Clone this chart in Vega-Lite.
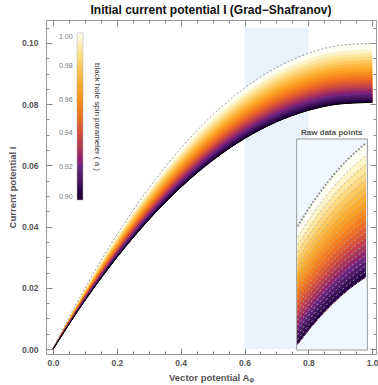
{
  "$schema": "https://vega.github.io/schema/vega-lite/v6.json",
  "width": 330,
  "height": 334,
  "autosize": {"type": "none"},
  "padding": {"left": 46, "top": 20, "right": 2, "bottom": 31},
  "config": {
    "font": "Liberation Sans",
    "view": {"stroke": "#9a9a9a", "strokeWidth": 1},
    "axis": {"grid": false, "domain": false, "tickColor": "#8a8a8a", "labelColor": "#555555", "titleColor": "#555555", "labelFontWeight": "bold", "titleFontWeight": "bold", "labelFontSize": 8.5, "titleFontSize": 9.5, "labelFont": "Liberation Sans", "titleFont": "Liberation Sans"}
  },
  "title": {"text": "Initial current potential I (Grad−Shafranov)", "fontSize": 12, "fontWeight": "bold", "color": "#111111", "offset": 3, "anchor": "middle", "font": "Liberation Sans"},
  "datasets": {
    "curves": [
      {"a": 1.0, "A": [0,0.1,0.2,0.3,0.4,0.5,0.6,0.65,0.7,0.75,0.8,0.9,1.0], "I": [0,0.01959,0.03697,0.05217,0.06522,0.07613,0.08492,0.08854,0.09164,0.09422,0.09629,0.0989,0.0995]},
      {"a": 0.995, "A": [0,0.1,0.2,0.3,0.4,0.5,0.6,0.65,0.7,0.75,0.8,0.9,1.0], "I": [0,0.01925,0.03633,0.05127,0.06409,0.07481,0.08346,0.08701,0.09005,0.09259,0.09462,0.09719,0.09778]},
      {"a": 0.99, "A": [0,0.1,0.2,0.3,0.4,0.5,0.6,0.65,0.7,0.75,0.8,0.9,1.0], "I": [0,0.019,0.03586,0.0506,0.06325,0.07383,0.08237,0.08588,0.08888,0.09138,0.09339,0.09592,0.09651]},
      {"a": 0.985, "A": [0,0.1,0.2,0.3,0.4,0.5,0.6,0.65,0.7,0.75,0.8,0.9,1.0], "I": [0,0.01877,0.03543,0.05,0.0625,0.07296,0.08139,0.08486,0.08783,0.0903,0.09228,0.09479,0.09536]},
      {"a": 0.98, "A": [0,0.1,0.2,0.3,0.4,0.5,0.6,0.65,0.7,0.75,0.8,0.9,1.0], "I": [0,0.01856,0.03504,0.04944,0.0618,0.07214,0.08047,0.0839,0.08684,0.08928,0.09124,0.09372,0.09429]},
      {"a": 0.975, "A": [0,0.1,0.2,0.3,0.4,0.5,0.6,0.65,0.7,0.75,0.8,0.9,1.0], "I": [0,0.01836,0.03465,0.0489,0.06113,0.07135,0.0796,0.08299,0.08589,0.08831,0.09025,0.0927,0.09326]},
      {"a": 0.97, "A": [0,0.1,0.2,0.3,0.4,0.5,0.6,0.65,0.7,0.75,0.8,0.9,1.0], "I": [0,0.01817,0.03429,0.04839,0.06049,0.07061,0.07877,0.08212,0.08499,0.08739,0.08931,0.09173,0.09229]},
      {"a": 0.965, "A": [0,0.1,0.2,0.3,0.4,0.5,0.6,0.65,0.7,0.75,0.8,0.9,1.0], "I": [0,0.01798,0.03394,0.0479,0.05987,0.06988,0.07796,0.08128,0.08412,0.08649,0.08839,0.09079,0.09134]},
      {"a": 0.96, "A": [0,0.1,0.2,0.3,0.4,0.5,0.6,0.65,0.7,0.75,0.8,0.9,1.0], "I": [0,0.0178,0.0336,0.04741,0.05926,0.06918,0.07717,0.08046,0.08327,0.08562,0.0875,0.08987,0.09042]},
      {"a": 0.955, "A": [0,0.1,0.2,0.3,0.4,0.5,0.6,0.65,0.7,0.75,0.8,0.9,1.0], "I": [0,0.01762,0.03326,0.04694,0.05868,0.06849,0.07641,0.07966,0.08245,0.08477,0.08663,0.08898,0.08952]},
      {"a": 0.95, "A": [0,0.1,0.2,0.3,0.4,0.5,0.6,0.65,0.7,0.75,0.8,0.9,1.0], "I": [0,0.01745,0.03294,0.04648,0.0581,0.06782,0.07566,0.07888,0.08164,0.08394,0.08578,0.08811,0.08865]},
      {"a": 0.945, "A": [0,0.1,0.2,0.3,0.4,0.5,0.6,0.65,0.7,0.75,0.8,0.9,1.0], "I": [0,0.01728,0.03262,0.04603,0.05753,0.06716,0.07492,0.07811,0.08084,0.08312,0.08495,0.08725,0.08778]},
      {"a": 0.94, "A": [0,0.1,0.2,0.3,0.4,0.5,0.6,0.65,0.7,0.75,0.8,0.9,1.0], "I": [0,0.01712,0.0323,0.04558,0.05698,0.06651,0.0742,0.07736,0.08006,0.08232,0.08413,0.08641,0.08693]},
      {"a": 0.935, "A": [0,0.1,0.2,0.3,0.4,0.5,0.6,0.65,0.7,0.75,0.8,0.9,1.0], "I": [0,0.01695,0.032,0.04515,0.05644,0.06588,0.07349,0.07662,0.0793,0.08154,0.08333,0.08559,0.08611]},
      {"a": 0.93, "A": [0,0.1,0.2,0.3,0.4,0.5,0.6,0.65,0.7,0.75,0.8,0.9,1.0], "I": [0,0.01679,0.03169,0.04472,0.0559,0.06525,0.0728,0.0759,0.07855,0.08077,0.08254,0.08478,0.08529]},
      {"a": 0.925, "A": [0,0.1,0.2,0.3,0.4,0.5,0.6,0.65,0.7,0.75,0.8,0.9,1.0], "I": [0,0.01663,0.03139,0.0443,0.05537,0.06463,0.0721,0.07517,0.0778,0.07999,0.08175,0.08397,0.08448]},
      {"a": 0.92, "A": [0,0.1,0.2,0.3,0.4,0.5,0.6,0.65,0.7,0.75,0.8,0.9,1.0], "I": [0,0.01648,0.0311,0.04388,0.05485,0.06403,0.07143,0.07447,0.07708,0.07925,0.08099,0.08319,0.08369]},
      {"a": 0.915, "A": [0,0.1,0.2,0.3,0.4,0.5,0.6,0.65,0.7,0.75,0.8,0.9,1.0], "I": [0,0.01632,0.03081,0.04347,0.05434,0.06343,0.07076,0.07377,0.07635,0.0785,0.08023,0.0824,0.0829]},
      {"a": 0.91, "A": [0,0.1,0.2,0.3,0.4,0.5,0.6,0.65,0.7,0.75,0.8,0.9,1.0], "I": [0,0.01617,0.03052,0.04306,0.05383,0.06283,0.0701,0.07308,0.07564,0.07777,0.07948,0.08163,0.08213]},
      {"a": 0.905, "A": [0,0.1,0.2,0.3,0.4,0.5,0.6,0.65,0.7,0.75,0.8,0.9,1.0], "I": [0,0.01602,0.03023,0.04266,0.05332,0.06224,0.06943,0.07239,0.07492,0.07703,0.07873,0.08086,0.08135]},
      {"a": 0.9, "A": [0,0.1,0.2,0.3,0.4,0.5,0.6,0.65,0.7,0.75,0.8,0.9,1.0], "I": [0,0.01587,0.02995,0.04226,0.05283,0.06166,0.06879,0.07172,0.07423,0.07632,0.07799,0.08011,0.0806]}
    ]
  },
  "layer": [
    {
      "layer": [
        {
          "data": {"values": [{"x1": 0.6, "x2": 0.8, "y1": 0, "y2": 0.105}]},
          "mark": {"type": "rect", "fill": "#eaf3fd"},
          "encoding": {
            "x": {"field": "x1", "type": "quantitative", "scale": {"domain": [-0.022, 1.012], "nice": false, "zero": false},
                  "axis": {"orient": "bottom", "values": [0, 0.2, 0.4, 0.6, 0.8, 1.0], "format": ".1f", "title": "Vector potential Aᵩ", "tickSize": -6, "labelPadding": 10, "titlePadding": 6}},
            "x2": {"field": "x2"},
            "y": {"field": "y1", "type": "quantitative", "scale": {"domain": [-0.0016, 0.1075], "nice": false, "zero": false},
                  "axis": {"orient": "left", "values": [0, 0.02, 0.04, 0.06, 0.08, 0.1], "format": ".2f", "title": "Current potential I", "tickSize": -6, "labelPadding": 14, "titlePadding": 4}},
            "y2": {"field": "y2"}
          }
        },
        {
          "data": {"name": "curves"},
          "transform": [
            {"flatten": ["A", "I"]},
            {"joinaggregate": [{"op": "min", "field": "I", "as": "Imin"}], "groupby": ["A"]}
          ],
          "mark": {"type": "area", "interpolate": "monotone"},
          "encoding": {
            "x": {"field": "A", "type": "quantitative",
                  "axis": {"orient": "bottom", "values": [0.05,0.1,0.15,0.25,0.3,0.35,0.45,0.5,0.55,0.65,0.7,0.75,0.85,0.9,0.95], "labels": false, "tickSize": -3, "title": null}},
            "y": {"field": "I", "type": "quantitative",
                  "axis": {"orient": "left", "values": [0.005,0.01,0.015,0.025,0.03,0.035,0.045,0.05,0.055,0.065,0.07,0.075,0.085,0.09,0.095,0.105], "labels": false, "tickSize": -3, "title": null}},
            "y2": {"field": "Imin"},
            "detail": {"field": "a"},
            "color": {"field": "a", "type": "quantitative",
                      "scale": {"domain": [0.9,0.91,0.92,0.93,0.94,0.95,0.96,0.97,0.98,0.99,1.0],
                                "range": ["#000000","#3a1258","#6e2580","#a8365a","#d4503a","#f06e22","#f98f1e","#fcad30","#fdc95e","#fee69f","#fffff4"]},
                      "legend": {"orient": "none", "legendX": 31, "legendY": 13, "direction": "vertical", "gradientLength": 167, "gradientThickness": 6,
                                 "values": [0.9,0.92,0.94,0.96,0.98,1.0], "format": ".2f", "labelOffset": -24,
                                 "labelFontSize": 7, "labelColor": "#777777", "labelFont": "Liberation Sans",
                                 "title": "black hole spin parameter ( a )", "titleOrient": "right", "titleAngle": 90, "titleFontSize": 8,
                                 "titleFontWeight": "normal", "titleColor": "#333333", "titleFont": "Liberation Sans", "titleAnchor": "middle", "titlePadding": 10,
                                 "gradientStrokeColor": "#aaaaaa", "gradientStrokeWidth": 0.5, "padding": 0}}
          }
        },
        {
          "data": {"name": "curves"},
          "transform": [{"flatten": ["A", "I"]}],
          "mark": {"type": "line", "interpolate": "monotone", "strokeWidth": 0.8},
          "encoding": {
            "x": {"field": "A", "type": "quantitative", "axis": null},
            "y": {"field": "I", "type": "quantitative", "axis": null},
            "detail": {"field": "a"},
            "color": {"field": "a", "type": "quantitative", "legend": null,
                      "scale": {"domain": [0.9,0.91,0.92,0.93,0.94,0.95,0.96,0.97,0.98,0.99,1.0],
                                "range": ["#000000","#3a1258","#6e2580","#a8365a","#d4503a","#f06e22","#f98f1e","#fcad30","#fdc95e","#fee69f","#fffff4"]}}
          }
        },
        {
          "data": {"name": "curves"},
          "transform": [{"filter": "datum.a == 1"}, {"flatten": ["A", "I"]}],
          "mark": {"type": "line", "interpolate": "monotone", "stroke": "#999999", "strokeWidth": 1, "strokeDash": [2, 2], "yOffset": -1},
          "encoding": {
            "x": {"field": "A", "type": "quantitative",
                  "axis": {"orient": "top", "values": [0, 0.2, 0.4, 0.6, 0.8, 1.0], "labels": false, "tickSize": -6, "title": null}},
            "y": {"field": "I", "type": "quantitative",
                  "axis": {"orient": "right", "values": [0, 0.02, 0.04, 0.06, 0.08, 0.1], "labels": false, "tickSize": -6, "title": null}}
          }
        },
        {
          "data": {"name": "curves"},
          "transform": [{"filter": "datum.a == 0.9"}, {"flatten": ["A", "I"]}],
          "mark": {"type": "line", "interpolate": "monotone", "stroke": "#000000", "strokeWidth": 1},
          "encoding": {
            "x": {"field": "A", "type": "quantitative",
                  "axis": {"orient": "top", "values": [0.05,0.1,0.15,0.25,0.3,0.35,0.45,0.5,0.55,0.65,0.7,0.75,0.85,0.9,0.95], "labels": false, "tickSize": -3, "title": null}},
            "y": {"field": "I", "type": "quantitative",
                  "axis": {"orient": "right", "values": [0.005,0.01,0.015,0.025,0.03,0.035,0.045,0.05,0.055,0.065,0.07,0.075,0.085,0.09,0.095,0.105], "labels": false, "tickSize": -3, "title": null}}
          }
        }
      ],
      "resolve": {"axis": {"x": "independent", "y": "independent"}, "scale": {"color": "independent"}}
    },
    {
      "layer": [
        {
          "data": {"values": [{"x1": 0.5975, "x2": 0.804, "y1": 0.06803, "y2": 0.09685}]},
          "mark": {"type": "rect", "fill": "#f1f7fe", "stroke": "#9a9a9a", "strokeWidth": 1},
          "encoding": {
            "x": {"field": "x1", "type": "quantitative", "scale": {"domain": [0.6, 0.8], "range": [251.5, 320], "nice": false, "zero": false}, "axis": null},
            "x2": {"field": "x2"},
            "y": {"field": "y1", "type": "quantitative", "scale": {"domain": [0.06803, 0.09685], "range": [330, 119], "nice": false, "zero": false}, "axis": null},
            "y2": {"field": "y2"}
          }
        },
        {
          "data": {"name": "curves"},
          "transform": [
            {"flatten": ["A", "I"]},
            {"filter": "datum.A >= 0.6 && datum.A <= 0.8"},
            {"joinaggregate": [{"op": "min", "field": "I", "as": "Imin"}], "groupby": ["A"]}
          ],
          "mark": {"type": "area", "interpolate": "monotone"},
          "encoding": {
            "x": {"field": "A", "type": "quantitative", "axis": null},
            "y": {"field": "I", "type": "quantitative", "axis": null},
            "y2": {"field": "Imin"},
            "detail": {"field": "a"},
            "color": {"field": "a", "type": "quantitative", "legend": null,
                      "scale": {"domain": [0.9,0.91,0.92,0.93,0.94,0.95,0.96,0.97,0.98,0.99,1.0],
                                "range": ["#000000","#3a1258","#6e2580","#a8365a","#d4503a","#f06e22","#f98f1e","#fcad30","#fdc95e","#fee69f","#fffff4"]}}
          }
        },
        {
          "data": {"name": "curves"},
          "transform": [{"filter": "datum.a < 1"}, {"flatten": ["A", "I"]}, {"filter": "datum.A >= 0.6 && datum.A <= 0.8"}],
          "mark": {"type": "line", "interpolate": "monotone", "stroke": "#b0b0b0", "strokeWidth": 0.9, "strokeDash": [2, 2.5], "opacity": 0.9},
          "encoding": {
            "x": {"field": "A", "type": "quantitative", "axis": null},
            "y": {"field": "I", "type": "quantitative", "axis": null},
            "detail": {"field": "a"}
          }
        },
        {
          "data": {"name": "curves"},
          "transform": [{"filter": "datum.a == 1"}, {"flatten": ["A", "I"]}, {"filter": "datum.A >= 0.6 && datum.A <= 0.8"}],
          "mark": {"type": "line", "interpolate": "monotone", "stroke": "#999999", "strokeWidth": 2, "strokeDash": [2, 1.5]},
          "encoding": {
            "x": {"field": "A", "type": "quantitative", "axis": null},
            "y": {"field": "I", "type": "quantitative", "axis": null}
          }
        },
        {
          "data": {"values": [{"x": 0.7, "y": 0.09685, "label": "Raw  data  points"}]},
          "mark": {"type": "text", "baseline": "bottom", "dy": -2, "fontSize": 8, "fontWeight": "bold", "color": "#555555", "font": "Liberation Sans"},
          "encoding": {
            "x": {"field": "x", "type": "quantitative", "axis": null},
            "y": {"field": "y", "type": "quantitative", "axis": null},
            "text": {"field": "label"}
          }
        }
      ]
    }
  ],
  "resolve": {"scale": {"x": "independent", "y": "independent", "color": "independent"}}
}
